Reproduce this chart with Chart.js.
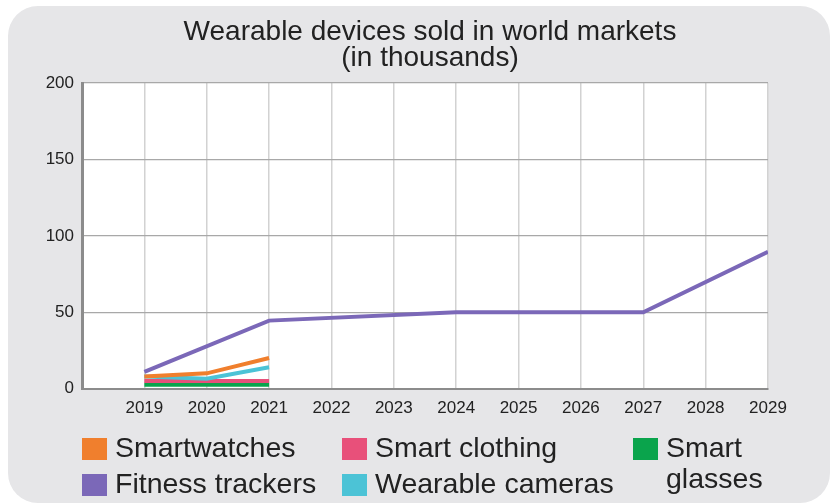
<!DOCTYPE html>
<html>
<head>
<meta charset="utf-8">
<script src="https://cdn.jsdelivr.net/npm/chart.js@4"></script>
<style>
  html, body { margin: 0; padding: 0; background: #fff; }
  .card {
    position: absolute; left: 8px; top: 6px; width: 822px; height: 497px;
    background: #e6e6e8; border-radius: 30px;
  }
  #wrap { position: absolute; left: 0; top: 0; width: 830px; height: 504px; }
  .legend {
    position: absolute; left: 82px; top: 432px; width: 700px;
    font-family: "Liberation Sans", Arial, sans-serif;
    font-size: 28.5px; color: #222; line-height: 31px;
  }
  .item { position: absolute; display: flex; align-items: flex-start; }
  .sw { width: 25px; height: 22px; margin: 6px 8px 0 0; flex: none; }
</style>
</head>
<body>
<div class="card"></div>
<div id="wrap"><canvas id="chart" width="830" height="504"></canvas></div>
<div class="legend" id="legend"></div>
<script>
// data
const years = [2018, 2019, 2020, 2021, 2022, 2023, 2024, 2025, 2026, 2027, 2028, 2029];
const seriesNames = ["Smartwatches", "Smart clothing", "Smart glasses", "Fitness trackers", "Wearable cameras"];
const seriesColors = ["#f07f2d", "#e8507a", "#0aa44c", "#7b68b8", "#4cc3d6"];
const smartwatches = [null, 8, 10, 20, null, null, null, null, null, null, null, null];
const smartClothing = [null, 5, 5, 5, null, null, null, null, null, null, null, null];
const smartGlasses = [null, 2.5, 2.5, 2.5, null, null, null, null, null, null, null, null];
const fitnessTrackers = [null, 11, null, 44.5, null, null, 50, null, null, 50, null, 89.5];
const wearableCameras = [null, 8, 6.5, 14, null, null, null, null, null, null, null, null];
const yTicks = [0, 50, 100, 150, 200];

const seriesValues = [smartwatches, smartClothing, smartGlasses, fitnessTrackers, wearableCameras];
// draw order: fitness trackers on top
const drawOrder = [2, 1, 4, 0, 3];

const datasets = drawOrder.map((i, k) => ({
  label: seriesNames[i],
  data: years.map((y, j) => ({ x: y, y: seriesValues[i][j] })).filter(p => p.y !== null),
  borderColor: seriesColors[i],
  backgroundColor: seriesColors[i],
  borderWidth: 4,
  pointRadius: 0,
  tension: 0,
  order: drawOrder.length - k
}));

const font = "'Liberation Sans', Arial, sans-serif";

const plotBg = {
  id: 'plotBg',
  beforeDraw(chart) {
    const { ctx, chartArea: a } = chart;
    ctx.save();
    ctx.fillStyle = '#ffffff';
    ctx.fillRect(a.left, a.top, a.right - a.left, a.bottom - a.top);
    ctx.restore();
  }
};

new Chart(document.getElementById('chart'), {
  type: 'line',
  data: { datasets },
  plugins: [plotBg],
  options: {
    responsive: false,
    animation: false,
    layout: { padding: { left: 30, right: 0, top: 9, bottom: 75 } },
    plugins: {
      legend: { display: false },
      tooltip: { enabled: false },
      title: {
        display: true,
        text: ['Wearable devices sold in world markets', '(in thousands)'],
        color: '#222',
        font: { family: font, size: 28, weight: 'normal', lineHeight: 0.93 },
        padding: { top: 10, bottom: 12 }
      }
    },
    scales: {
      x: {
        type: 'linear',
        min: 2018, max: 2029,
        ticks: {
          stepSize: 1,
          color: '#222',
          font: { family: font, size: 17 },
          padding: 10,
          callback: v => v === 2018 ? '' : String(v)
        },
        grid: { color: '#d2d2d2', lineWidth: 1.5, drawTicks: false },
        border: { color: '#8c8c8c', width: 2 }
      },
      y: {
        min: 0, max: 200,
        afterBuildTicks: axis => { axis.ticks = yTicks.map(v => ({ value: v })); },
        afterFit: axis => { axis.width = 52; },
        ticks: {
          color: '#222',
          font: { family: font, size: 17 },
          padding: 8
        },
        grid: { color: '#a8a8a8', lineWidth: 1.2, drawTicks: false },
        border: { color: '#8c8c8c', width: 3 }
      },
      y2: {
        position: 'right',
        min: 0, max: 200,
        afterFit: axis => { axis.width = 62; },
        ticks: { display: false },
        grid: { display: false, drawTicks: false },
        border: { display: false }
      }
    }
  }
});

// legend from the same names/colours
const legendPos = [
  [0, 0], [260, 0], [551, 0], [0, 1], [260, 1]
];
const leg = document.getElementById('legend');
seriesNames.forEach((name, i) => {
  const el = document.createElement('div');
  el.className = 'item';
  el.style.left = legendPos[i][0] + 'px';
  el.style.top = (legendPos[i][1] * 36) + 'px';
  const sw = document.createElement('span');
  sw.className = 'sw';
  sw.style.background = seriesColors[i];
  const tx = document.createElement('span');
  tx.innerHTML = name === 'Smart glasses' ? 'Smart<br>glasses' : name;
  el.appendChild(sw); el.appendChild(tx);
  leg.appendChild(el);
});
</script>
</body>
</html>
